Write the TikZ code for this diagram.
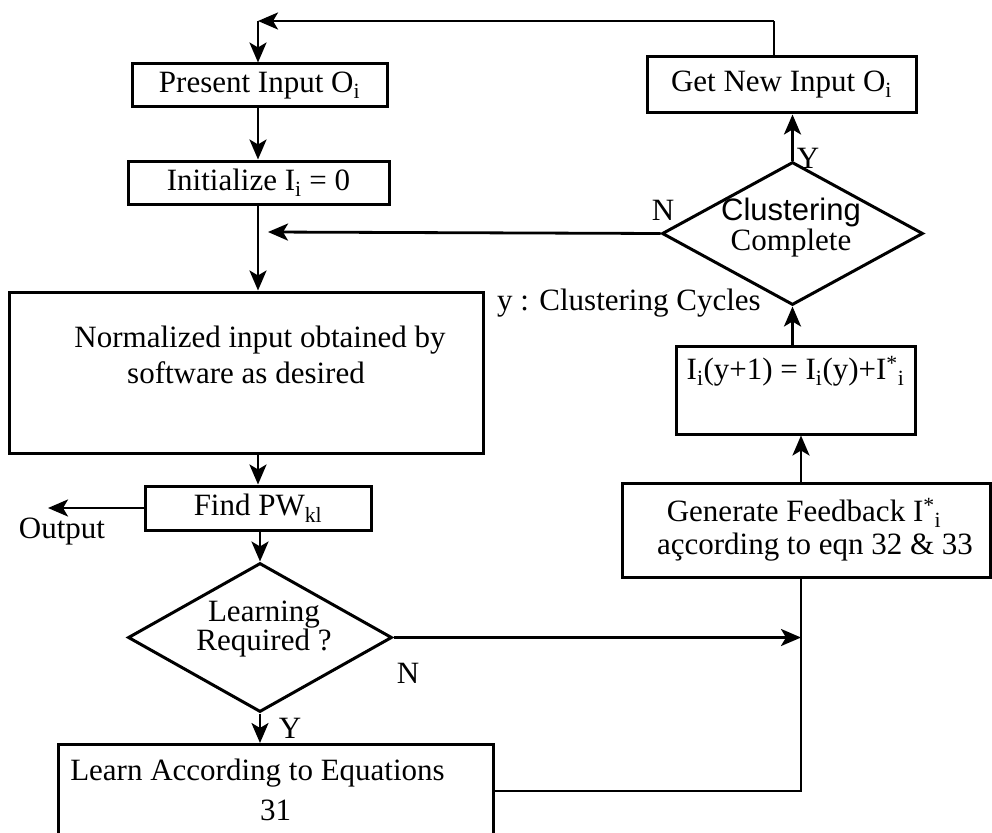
\documentclass[tikz,border=0pt]{standalone}
\usepackage{fontspec}
\setmainfont{Liberation Serif}
\newfontfamily\helv{Liberation Sans}
\usetikzlibrary{arrows.meta,shapes.geometric}
\newcommand\fsz{\fontsize{31pt}{36pt}\selectfont}
\tikzset{
  box/.style={draw, line width=3pt, rectangle, inner sep=0pt, font=\fsz, align=center},
  dia/.style={draw, line width=3pt, diamond, inner sep=0pt},
  txt/.style={inner sep=0pt, font=\fsz, align=center},
  conn/.style={line width=2.8pt},
  thinconn/.style={line width=2.3pt},
  arr/.style={conn, -{Stealth[length=20pt,width=17pt,inset=5pt]}},
}
\begin{document}
\begin{tikzpicture}[x=1pt,y=-1pt]
\clip (0,0) rectangle (992,832);
\fill[white] (0,0) rectangle (992,832);

% boxes
\node[box, minimum width=255pt, minimum height=43pt] (present) at (259.5,85.5) {Present Input O\textsubscript{i}};
\node[box, minimum width=261pt, minimum height=43pt] (init) at (258.5,182.5) {Initialize I\textsubscript{i} = 0};
\node[box, minimum width=269pt, minimum height=56pt] (getnew) at (781.5,85) {Get New Input O\textsubscript{i}};
\node[box, minimum width=474pt, minimum height=161pt] (norm) at (246,372.5) {\hspace*{28pt}Normalized input obtained by\\software as desired\hspace*{28pt}\\ \mbox{}};
\node[box, minimum width=226pt, minimum height=44pt] (findpw) at (258,508) {Find PW\textsubscript{kl}};
\node[box, minimum width=435pt, minimum height=130pt, anchor=north, font=\fontsize{31pt}{40pt}\selectfont] (learn) at (275.5,743) {Learn According to Equations\hspace*{36pt}\\31\\ \mbox{}};
\node[box, minimum width=239pt, minimum height=88pt, font=\fontsize{31pt}{44pt}\selectfont] (ibox) at (795.5,390) {I\textsubscript{i}(y+1) = I\textsubscript{i}(y)+I\textsuperscript{*}\textsubscript{i}\\ \mbox{}};
\node[box, minimum width=368pt, minimum height=94pt, font=\fontsize{31pt}{33pt}\selectfont] (gen) at (806,530) {Generate Feedback I\textsuperscript{*}\textsubscript{i}\hspace*{4pt}\\ \hspace*{18pt}açcording to eqn 32 \& 33};

% diamonds
\node[dia, minimum width=261pt, minimum height=143pt] (clus) at (792.5,233.5) {};
\node[txt, font=\fontsize{31pt}{30pt}\selectfont] (clustxt) at (791,228) {{\helv Clustering}\\Complete};
\node[dia, minimum width=264pt, minimum height=149pt] (learnD) at (260,637.5) {};
\node[txt, font=\fontsize{31pt}{28pt}\selectfont] (learntxt) at (264,629) {Learning\\Required ?};

% labels
\node[txt] (yTop) at (808,158) {Y};
\node[txt] (nTop) at (663,210) {N};
\node[txt, anchor=west] (cyc) at (497,303) {y : Clustering Cycles};
\node[txt] (outlbl) at (62,532) {Output};
\node[txt] (yBot) at (290,728) {Y};
\node[txt] (nBot) at (408,673) {N};

% coordinates
\coordinate (topR) at (774,21);
\coordinate (topL) at (258,21);
\coordinate (nTip) at (268,232);
\coordinate (outTip) at (48,508);
\coordinate (rail) at (801,637.5);
\coordinate (railB) at (801,791);

% connectors
\draw[conn] (getnew.north -| topR) -- (topR);
\draw[arr] (topR) -- (topL);
\draw[arr] (topL) -- (topL |- present.north);
\draw[arr] (present.south -| topL) -- (init.north -| topL);
\draw[arr] (init.south -| topL) -- (norm.north -| topL);
\draw[arr] (clus.west) -- (nTip);
\draw[arr] (clus.north) -- (clus.north |- getnew.south);
\draw[arr] (ibox.north -| clus.south) -- (clus.south);
\draw[arr] (gen.north -| rail) -- (ibox.south -| rail);
\draw[arr] (norm.south -| findpw.north) -- (findpw.north);
\draw[arr] (findpw.west) -- (outTip);
\draw[arr] (findpw.south -| learnD.north) -- (learnD.north);
\draw[arr] (learnD.south) -- (learnD.south |- learn.north);
\draw[arr] (learnD.east) -- (rail);
\draw[thinconn] (learn.east |- railB) -- (railB) -- (gen.south -| railB);
\end{tikzpicture}
\end{document}
